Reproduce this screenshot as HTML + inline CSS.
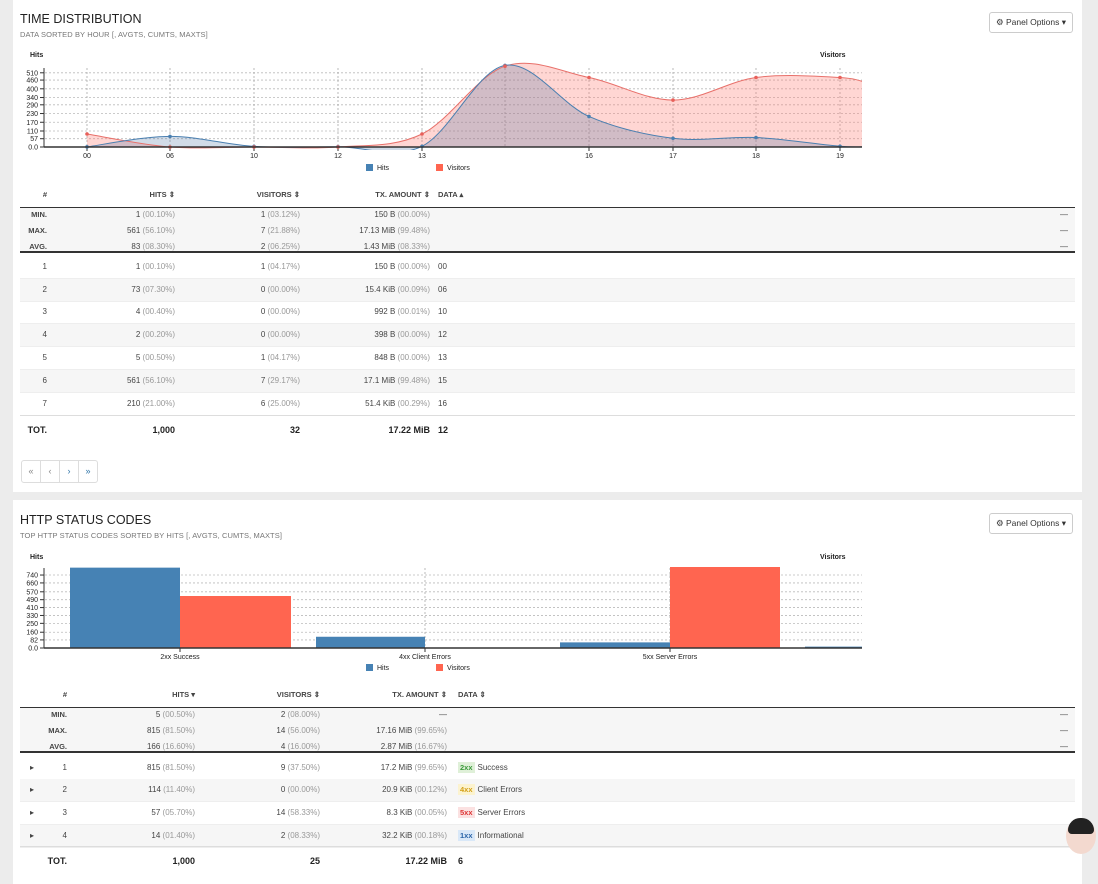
<!DOCTYPE html>
<html><head><meta charset="utf-8"><style>
body{margin:0;width:1098px;height:884px;background:#ececec;font-family:"Liberation Sans",sans-serif;color:#333;position:relative;overflow:hidden}
.panel{position:absolute;left:13px;width:1069px;background:#fff}
.t{position:absolute;font-size:12.5px;color:#222}
.s{position:absolute;font-size:7.5px;color:#777;letter-spacing:.1px}
.btn{position:absolute;border:1px solid #ccc;border-radius:3px;font-size:8.5px;padding:4px 6px;background:#fff;color:#333}
.a{position:absolute;font-size:8px;color:#444;white-space:nowrap}
.r{text-align:right}
.g{color:#999}
.b{font-weight:bold;font-size:9px;color:#222}
.line{position:absolute;left:20px;width:1055px;background:#333}
.stripe{position:absolute;left:20px;width:1055px;background:#f6f6f6}
.tag{font-size:7.5px;padding:1px 2px;font-weight:bold;margin-right:3px}
</style></head><body>
<div class="panel" style="top:0;height:492px"></div>
<div class="panel" style="top:500px;height:384px"></div>

<div class="t" style="left:20px;top:12px">TIME DISTRIBUTION</div>
<div class="s" style="left:20px;top:30px">DATA SORTED BY HOUR [, AVGTS, CUMTS, MAXTS]</div>
<div class="btn" style="left:989px;top:12px">&#9881; Panel Options &#9662;</div>

<div class="t" style="left:20px;top:513px">HTTP STATUS CODES</div>
<div class="s" style="left:20px;top:531px">TOP HTTP STATUS CODES SORTED BY HITS [, AVGTS, CUMTS, MAXTS]</div>
<div class="btn" style="left:989px;top:513px">&#9881; Panel Options &#9662;</div>

<svg id="c1" style="position:absolute;left:0;top:0" width="1098" height="884" font-family="Liberation Sans, sans-serif"></svg>

<div id="tbl"></div>
<div style="position:absolute;left:21px;top:460px;width:75px;height:21px;border:1px solid #ddd;border-radius:3px;display:flex">
<div style="flex:1;border-right:1px solid #ddd;text-align:center;font-size:9px;line-height:20px;color:#888">«</div>
<div style="flex:1;border-right:1px solid #ddd;text-align:center;font-size:9px;line-height:20px;color:#888">‹</div>
<div style="flex:1;border-right:1px solid #ddd;text-align:center;font-size:9px;line-height:20px;color:#37a">›</div>
<div style="flex:1;text-align:center;font-size:9px;line-height:20px;color:#37a">»</div>
</div>
<div style="position:absolute;left:1066px;top:818px;width:30px;height:36px;border-radius:50%;background:#f3d9cf"></div>
<div style="position:absolute;left:1068px;top:818px;width:26px;height:16px;border-radius:13px 13px 4px 4px;background:#222"></div>

<script>
var S=document.getElementById('c1'),h='';
function T(x,y,s,o){o=o||{};h+='<text x="'+x+'" y="'+y+'" font-size="'+(o.fs||7)+'" fill="'+(o.c||'#222')+'" text-anchor="'+(o.a||'start')+'"'+(o.w?' font-weight="bold"':'')+'>'+s+'</text>';}
function L(x1,y1,x2,y2,c,w,d){h+='<line x1="'+x1+'" y1="'+y1+'" x2="'+x2+'" y2="'+y2+'" stroke="'+c+'" stroke-width="'+(w||1)+'"'+(d?' stroke-dasharray="'+d+'"':'')+'/>';}
function curve(p){var s='M'+p[0][0]+','+p[0][1];for(var i=0;i<p.length-1;i++){var p0=p[i-1]||p[i],p1=p[i],p2=p[i+1],p3=p[i+2]||p2;var k=6;s+=' C'+(p1[0]+(p2[0]-p0[0])/k)+','+(p1[1]+(p2[1]-p0[1])/k)+' '+(p2[0]-(p3[0]-p1[0])/k)+','+(p2[1]-(p3[1]-p1[1])/k)+' '+p2[0]+','+p2[1];}return s;}
// chart 1
var x0=45,x1=862,yb=147;
var ys=[[0,'0.0'],[57,'57'],[110,'110'],[170,'170'],[230,'230'],[290,'290'],[340,'340'],[400,'400'],[460,'460'],[510,'510']];
ys.forEach(function(t){var y=yb-t[0]*0.1455;if(t[0])L(x0,y,x1,y,'#bbb',0.8,'2,2');L(40,y,44,y,'#333');T(38,y+2.5,t[1],{a:'end',fs:7});});
L(44,68,44,yb,'#333');T(30,57,'Hits',{fs:7,w:1});T(820,57,'Visitors',{fs:7,w:1});
var xs=[87,170,254,338,422,505,589,673,756,840],lb=['00','06','10','12','13','','16','17','18','19'];
xs.forEach(function(x,i){L(x,68,x,yb,'#aaa',0.8,'2,2');if(lb[i]){L(x,yb,x,yb+4,'#333');T(x,yb+11,lb[i],{a:'middle',fs:7});}});
var hv=[1,73,4,2,5,561,210,60,65,5],vv=[1,0,0,0,1,7,6,4,6,6];
var hp=xs.map(function(x,i){return[x,yb-hv[i]*0.1455]});hp.push([870,yb-4*0.1455]);
var vp=xs.map(function(x,i){return[x,vv[i]?yb-13-(vv[i]-1)*11.3:yb]});vp.push([870,84]);
var vc=curve(vp),hc=curve(hp);
h+='<clipPath id="cl"><rect x="45" y="55" width="817" height="95"/></clipPath><g clip-path="url(#cl)">';
h+='<path d="'+vc+' L870,'+yb+' L87,'+yb+'Z" fill="rgba(255,120,110,0.3)"/>';
h+='<path d="'+hc+' L870,'+yb+' L87,'+yb+'Z" fill="rgba(70,110,160,0.25)"/>';
h+='<path d="'+vc+'" fill="none" stroke="#e8706a" stroke-width="1"/>';
h+='<path d="'+hc+'" fill="none" stroke="#4a7fb0" stroke-width="1"/></g>';
hp.slice(0,10).forEach(function(p){h+='<circle cx="'+p[0]+'" cy="'+p[1]+'" r="1.8" fill="#4a7fb0"/>'});
vp.slice(0,10).forEach(function(p){h+='<circle cx="'+p[0]+'" cy="'+p[1]+'" r="1.8" fill="#e8605a"/>'});
L(44,yb,862,yb,'#333',1.5);
h+='<rect x="366" y="164" width="7" height="7" fill="#4682b4"/>';T(377,170,'Hits',{fs:7});
h+='<rect x="436" y="164" width="7" height="7" fill="#ff6550"/>';T(447,170,'Visitors',{fs:7});
// chart 2
yb=648;var sc=0.0986;
[[0,'0.0'],[82,'82'],[160,'160'],[250,'250'],[330,'330'],[410,'410'],[490,'490'],[570,'570'],[660,'660'],[740,'740']].forEach(function(t){var y=yb-t[0]*sc;if(t[0])L(x0,y,x1,y,'#bbb',0.8,'2,2');L(40,y,44,y,'#333');T(38,y+2.5,t[1],{a:'end',fs:7});});
L(44,568,44,yb,'#333');T(30,559,'Hits',{fs:7,w:1});T(820,559,'Visitors',{fs:7,w:1});
[425,670].forEach(function(x){L(x,568,x,yb,'#aaa',0.8,'2,2')});
function bar(x,w,v,c){h+='<rect x="'+x+'" y="'+(yb-v)+'" width="'+w+'" height="'+v+'" fill="'+c+'"/>';}
bar(70,110,815*sc,'#4682b4');bar(180,111,52,'#ff6550');
bar(316,109,114*sc,'#4682b4');
bar(560,110,57*sc,'#4682b4');bar(670,110,81,'#ff6550');
bar(805,57,14*sc,'#4682b4');
L(44,yb,862,yb,'#333',1.5);
[[180,'2xx Success'],[425,'4xx Client Errors'],[670,'5xx Server Errors']].forEach(function(t){L(t[0],yb,t[0],yb+4,'#333');T(t[0],yb+11,t[1],{a:'middle',fs:7});});
h+='<rect x="366" y="664" width="7" height="7" fill="#4682b4"/>';T(377,670,'Hits',{fs:7});
h+='<rect x="436" y="664" width="7" height="7" fill="#ff6550"/>';T(447,670,'Visitors',{fs:7});
S.innerHTML=h;
// tables
var o='';
function a(x,y,s,cls,right,w){o+='<div class="a '+(cls||'')+'" style="'+(right?'right:'+(1098-x)+'px':'left:'+x+'px')+';top:'+(y-5)+'px">'+s+'</div>';}
function pct(v,p){return v+' <span class="g">('+p+')</span>';}
function table(cfg){
 var c=cfg.c;
 o+='<div class="stripe" style="top:'+(cfg.hy+13)+'px;height:'+(cfg.my+36-cfg.hy-13)+'px"></div>';
 cfg.rows.forEach(function(r,i){if(i%2)o+='<div class="stripe" style="top:'+(r.y-11)+'px;height:22px"></div>';o+='<div style="position:absolute;left:20px;width:1055px;top:'+(r.y+11)+'px;height:1px;background:#eee"></div>';});
 o+='<div class="line" style="top:'+(cfg.hy+12)+'px;height:1px"></div><div class="line" style="top:'+(cfg.my+36)+'px;height:1.5px"></div>';
 cfg.h.forEach(function(t,i){a(c[i]+(i==4?0:0),cfg.hy,'<b style="font-size:7.5px">'+t+'</b>','',i<4);});
 ['MIN.','MAX.','AVG.'].forEach(function(l,j){var y=cfg.my+j*16;a(c[0],y,'<b style="font-size:7.5px">'+l+'</b>','',1);for(var k=0;k<3;k++)a(c[k+1],y,cfg.st[j][k],'',1);a(1068,y,'—','',1);});
 cfg.rows.forEach(function(r){if(cfg.arrow)a(30,r.y,'▸');a(c[0],r.y,r.d[0],'',1);for(var k=1;k<4;k++)a(c[k],r.y,r.d[k],'',1);a(c[4],r.y,r.d[4]);});
 o+='<div style="position:absolute;left:20px;width:1055px;top:'+(cfg.ty-15)+'px;height:1px;background:#ddd"></div>';
 a(c[0]-(cfg.arrow?0:0),cfg.ty,'<span class="b">TOT.</span>','',1);cfg.tot.forEach(function(t,k){a(c[k+1],cfg.ty,'<span class="b">'+t+'</span>','',k<3);});
}
table({c:[47,175,300,430,438],hy:195,my:215,ty:430,
 h:['#','HITS ⇕','VISITORS ⇕','TX. AMOUNT ⇕','DATA ▴'],
 st:[[pct(1,'00.10%'),pct(1,'03.12%'),pct('150 B','00.00%')],[pct(561,'56.10%'),pct(7,'21.88%'),pct('17.13 MiB','99.48%')],[pct(83,'08.30%'),pct(2,'06.25%'),pct('1.43 MiB','08.33%')]],
 rows:[{y:267,d:[1,pct(1,'00.10%'),pct(1,'04.17%'),pct('150 B','00.00%'),'00']},{y:290,d:[2,pct(73,'07.30%'),pct(0,'00.00%'),pct('15.4 KiB','00.09%'),'06']},{y:312,d:[3,pct(4,'00.40%'),pct(0,'00.00%'),pct('992 B','00.01%'),'10']},{y:335,d:[4,pct(2,'00.20%'),pct(0,'00.00%'),pct('398 B','00.00%'),'12']},{y:358,d:[5,pct(5,'00.50%'),pct(1,'04.17%'),pct('848 B','00.00%'),'13']},{y:381,d:[6,pct(561,'56.10%'),pct(7,'29.17%'),pct('17.1 MiB','99.48%'),'15']},{y:404,d:[7,pct(210,'21.00%'),pct(6,'25.00%'),pct('51.4 KiB','00.29%'),'16']}],
 tot:['1,000','32','17.22 MiB','12']});
function tg(t,bg,c){return '<span class="tag" style="background:'+bg+';color:'+c+'">'+t+'</span>';}
table({c:[67,195,320,447,458],hy:695,my:715,ty:861,arrow:1,
 h:['#','HITS ▾','VISITORS ⇕','TX. AMOUNT ⇕','DATA ⇕'],
 st:[[pct(5,'00.50%'),pct(2,'08.00%'),'—'],[pct(815,'81.50%'),pct(14,'56.00%'),pct('17.16 MiB','99.65%')],[pct(166,'16.60%'),pct(4,'16.00%'),pct('2.87 MiB','16.67%')]],
 rows:[{y:768,d:[1,pct(815,'81.50%'),pct(9,'37.50%'),pct('17.2 MiB','99.65%'),tg('2xx','#dff0d8','#3c9a3c')+'Success']},{y:790,d:[2,pct(114,'11.40%'),pct(0,'00.00%'),pct('20.9 KiB','00.12%'),tg('4xx','#fcf3cf','#d4a017')+'Client Errors']},{y:813,d:[3,pct(57,'05.70%'),pct(14,'58.33%'),pct('8.3 KiB','00.05%'),tg('5xx','#fbe1e1','#d33')+'Server Errors']},{y:836,d:[4,pct(14,'01.40%'),pct(2,'08.33%'),pct('32.2 KiB','00.18%'),tg('1xx','#d9e8f8','#2a64a8')+'Informational']}],
 tot:['1,000','25','17.22 MiB','6']});
document.getElementById('tbl').innerHTML=o;
</script>
</body></html>
